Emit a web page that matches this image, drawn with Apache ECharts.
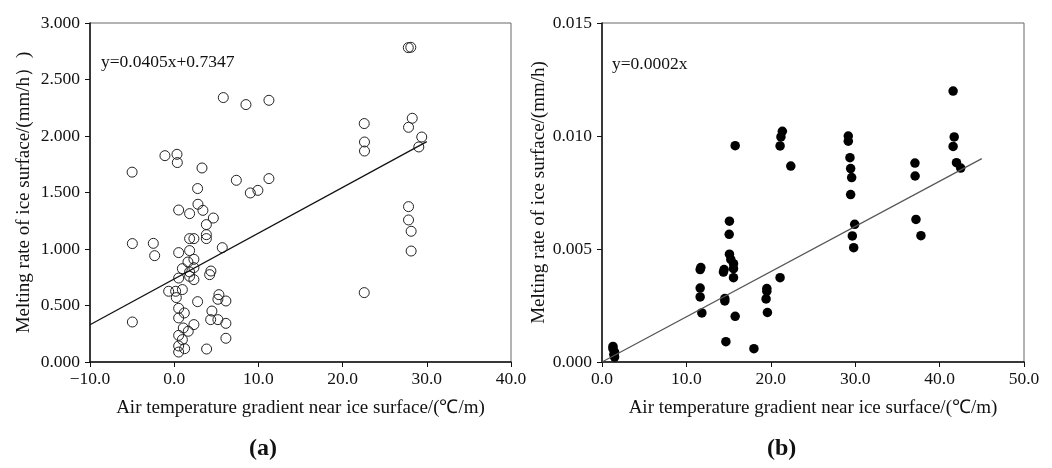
<!DOCTYPE html>
<html><head><meta charset="utf-8">
<script src="https://cdn.jsdelivr.net/npm/echarts@6/dist/echarts.min.js"></script>
<style>html,body{margin:0;padding:0;background:#fff}#c{width:1052px;height:468px}</style>
</head><body><div id="c"></div>
<script>
// Panel (a): open circles
const aX = [-5.0,-1.1,0.33,0.37,3.3,2.78,5.83,8.52,7.38,9.04,9.94,11.25,11.25,27.8,28.1,22.57,22.6,22.6,28.27,27.83,29.4,29.05,27.83,27.83,28.14,28.14,22.57,-4.97,-2.48,-2.32,-4.97,0.53,2.82,3.41,1.83,4.65,3.82,3.82,3.82,1.83,2.34,5.71,0.53,1.83,2.34,1.63,0.97,2.34,1.83,1.83,2.34,4.36,4.21,0.53,-0.66,0.17,0.97,0.25,2.78,5.31,5.19,6.14,0.53,4.48,1.2,0.53,4.33,5.19,6.14,2.34,1.08,1.67,0.53,0.97,6.14,0.53,1.24,0.53,3.85];
const aY = [1.68,1.826,1.838,1.765,1.717,1.535,2.34,2.278,1.608,1.496,1.519,1.623,2.316,2.782,2.785,2.11,1.947,1.867,2.157,2.077,1.991,1.903,1.375,1.257,1.157,0.982,0.614,1.048,1.05,0.941,0.354,1.345,1.396,1.342,1.313,1.274,1.216,1.127,1.092,1.092,1.092,1.012,0.968,0.986,0.909,0.885,0.826,0.835,0.797,0.758,0.729,0.805,0.773,0.743,0.626,0.626,0.641,0.57,0.534,0.596,0.555,0.54,0.475,0.451,0.434,0.39,0.375,0.375,0.342,0.331,0.301,0.272,0.236,0.198,0.21,0.142,0.118,0.088,0.115];
const aFitX = [-10, 30];
const aFitY = [0.33, 1.95];
const aEquation = 'y=0.0405x+0.7347';

// Panel (b): filled circles
const bX = [15.78,21.37,21.2,21.1,22.37,29.18,29.18,29.38,29.46,29.58,29.46,37.08,37.1,41.6,41.73,41.6,42.0,42.5,29.94,29.66,29.82,37.2,37.79,21.1,19.53,19.53,19.44,19.6,15.1,15.07,15.1,15.26,15.58,15.58,15.58,14.47,14.39,11.71,11.63,11.63,11.63,11.83,14.55,14.55,15.78,14.68,18.0,1.3,1.3,1.49,1.4,1.49];
const bY = [0.00957,0.01021,0.00996,0.00956,0.00867,0.0100,0.00977,0.00904,0.00856,0.00816,0.00741,0.0088,0.00823,0.01199,0.00996,0.00954,0.00882,0.00858,0.00609,0.00558,0.00506,0.00631,0.00559,0.00373,0.00325,0.00313,0.00279,0.00219,0.00623,0.00565,0.00477,0.00454,0.00435,0.00413,0.00373,0.00409,0.00398,0.00418,0.00409,0.00327,0.00288,0.00217,0.00281,0.0027,0.00202,0.0009,0.00059,0.00069,0.00059,0.00044,0.00033,0.00022];
const bFitX = [0, 45];
const bFitY = [0, 0.009];
const bEquation = 'y=0.0002x';

const xName = 'Air temperature gradient near ice surface/(℃/m)';
const yNameA = 'Melting rate of ice surface/(mm/h）)';
const yNameB = 'Melting rate of ice surface/(mm/h)';
const panelLabels = ['(a)', '(b)'];

const FONT = '"Liberation Serif", "Times New Roman", serif';
const zip = (xs, ys) => xs.map((x, i) => [x, ys[i]]);
const fmtX = v => (v < 0 ? '\u2212' + Math.abs(v).toFixed(1) : v.toFixed(1));

function xAxisCfg(idx, min, max) {
  return {
    gridIndex: idx, type: 'value', min: min, max: max, interval: 10,
    name: xName, nameLocation: 'middle', nameGap: 37,
    nameTextStyle: { fontFamily: FONT, fontSize: 19, color: '#111' },
    axisLine: { show: true, onZero: false, lineStyle: { color: '#111', width: 1.5 } },
    axisTick: { show: true, inside: false, length: 5, lineStyle: { color: '#111' } },
    axisLabel: { fontFamily: FONT, fontSize: 17.5, color: '#111', margin: 8, formatter: fmtX },
    splitLine: { show: false }
  };
}
function yAxisCfg(idx, max, interval, name, gap) {
  return {
    gridIndex: idx, type: 'value', min: 0, max: max, interval: interval,
    name: name, nameLocation: 'middle', nameGap: gap,
    nameTextStyle: { fontFamily: FONT, fontSize: 19, color: '#111' },
    axisLine: { show: true, onZero: false, lineStyle: { color: '#111', width: 1.5 } },
    axisTick: { show: true, inside: false, length: 5, lineStyle: { color: '#111' } },
    axisLabel: { fontFamily: FONT, fontSize: 17.5, color: '#111', margin: 10, formatter: v => v.toFixed(3) },
    splitLine: { show: false }
  };
}

const option = {
  backgroundColor: '#fff',
  animation: false,
  grid: [
    { left: 90, top: 23, width: 421, height: 339, show: true, borderColor: '#666', borderWidth: 1, backgroundColor: 'transparent' },
    { left: 602, top: 23, width: 422, height: 339, show: true, borderColor: '#666', borderWidth: 1, backgroundColor: 'transparent' }
  ],
  xAxis: [xAxisCfg(0, -10, 40), xAxisCfg(1, 0, 50)],
  yAxis: [yAxisCfg(0, 3, 0.5, yNameA, 56), yAxisCfg(1, 0.015, 0.005, yNameB, 53)],
  graphic: [
    { type: 'text', left: 101, top: 53, style: { text: aEquation, font: '17.5px ' + FONT, fill: '#111' } },
    { type: 'text', left: 612, top: 55, style: { text: bEquation, font: '17.5px ' + FONT, fill: '#111' } },
    { type: 'text', left: 249, top: 437, style: { text: panelLabels[0], font: 'bold 24px ' + FONT, fill: '#111' } },
    { type: 'text', left: 767, top: 437, style: { text: panelLabels[1], font: 'bold 24px ' + FONT, fill: '#111' } }
  ],
  series: [
    { type: 'scatter', xAxisIndex: 0, yAxisIndex: 0, data: zip(aX, aY), symbol: 'circle', symbolSize: 10,
      itemStyle: { color: 'rgba(255,255,255,0)', borderColor: '#222', borderWidth: 1, opacity: 1 } },
    { type: 'line', xAxisIndex: 0, yAxisIndex: 0, data: zip(aFitX, aFitY), symbol: 'none',
      lineStyle: { color: '#111', width: 1.3 } },
    { type: 'scatter', xAxisIndex: 1, yAxisIndex: 1, data: zip(bX, bY), symbol: 'circle', symbolSize: 9.5,
      itemStyle: { color: '#000', opacity: 1 } },
    { type: 'line', xAxisIndex: 1, yAxisIndex: 1, data: zip(bFitX, bFitY), symbol: 'none',
      lineStyle: { color: '#555', width: 1.2 } }
  ]
};
const chart = echarts.init(document.getElementById('c'), null, { renderer: 'canvas' });
chart.setOption(option);
</script>
</body></html>
